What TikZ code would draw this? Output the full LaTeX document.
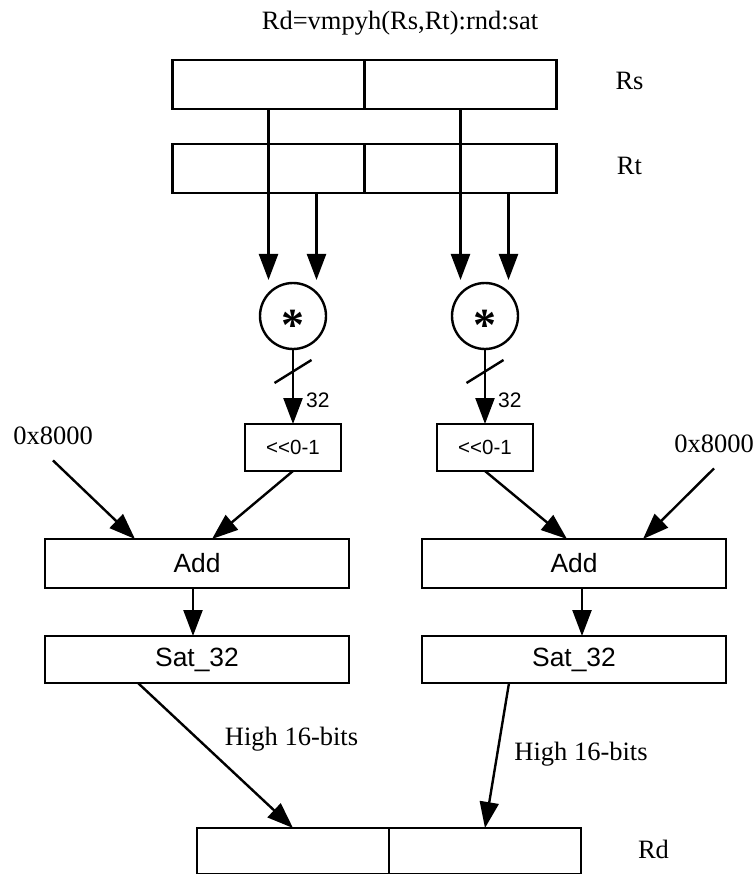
\documentclass[tikz,border=0pt]{standalone}
\usepackage{fontspec}
\setmainfont{Liberation Serif}
\setsansfont{Liberation Sans}
\usetikzlibrary{arrows.meta, positioning, calc}

\begin{document}
\begin{tikzpicture}[x=1pt, y=-1pt,
  %% Node styles
  reg/.style   ={draw, line width=2.8pt, minimum width=192pt, minimum height=49pt,
                 inner sep=0pt, outer sep=0pt},
  opbox/.style ={draw, line width=2.8pt, minimum width=304pt, minimum height=49pt,
                 inner sep=0pt, outer sep=0pt, font=\sffamily\fontsize{26.4}{30}\selectfont},
  shbox/.style ={draw, line width=2.8pt, minimum width=96pt, minimum height=47pt,
                 inner sep=0pt, outer sep=0pt, font=\sffamily\fontsize{20.5}{24}\selectfont},
  mult/.style  ={circle, draw, line width=2.4pt, minimum size=66pt, inner sep=0pt, outer sep=0pt,
                 font=\bfseries\fontsize{46}{46}\selectfont, text height=49pt, text depth=0pt},
  lbl/.style   ={inner sep=0pt, anchor=base, font=\fontsize{26.5}{30}\selectfont},
  wlbl/.style  ={inner sep=0pt, anchor=west, xshift=12pt, font=\sffamily\fontsize{21}{24}\selectfont},
  %% Arrows
  arr/.style   ={-{Triangle[length=26pt,width=19pt]}, line width=2.4pt},
  wire/.style  ={line width=2.4pt}
]
\useasboundingbox (0,0) rectangle (753,874);

%% ── SOURCE REGISTERS ────────────────────────────────────────────
\node[lbl] (title) at (400, 29.5) {Rd=vmpyh(Rs,Rt):rnd:sat};

\node[reg] (rsL) at (268.5, 84.5) {};
\node[reg] (rsR) at (460.5, 84.5) {};
\node[reg] (rtL) at (268.5, 168.5) {};
\node[reg] (rtR) at (460.5, 168.5) {};

\node[lbl] (rsName) at (629.5, 89.5) {Rs};
\node[lbl] (rtName) at (629.5, 174.5) {Rt};

%% ── MULTIPLIERS ─────────────────────────────────────────────────
\node[mult] (mulL) at (293, 316) {*};
\node[mult] (mulR) at (485, 316) {*};

\coordinate (rtLo) at ($(rtL.south)+(48,0)$);
\coordinate (rtRo) at ($(rtR.south)+(48,0)$);

\draw[arr, shorten >=3pt] (rsL.south) -- (rsL.south |- mulL.north);
\draw[arr, shorten >=3pt] (rtLo)      -- (rtLo |- mulL.north);
\draw[arr, shorten >=3pt] (rsR.south) -- (rsR.south |- mulR.north);
\draw[arr, shorten >=3pt] (rtRo)      -- (rtRo |- mulR.north);

%% ── SHIFT ───────────────────────────────────────────────────────
\node[shbox] (shL) at (293, 447.5) {<{}<0-1};
\node[shbox] (shR) at (485, 447.5) {<{}<0-1};

\draw[arr] (mulL) -- (shL) coordinate[pos=0.3] (cutL) node[wlbl, pos=0.68] {32};
\draw[arr] (mulR) -- (shR) coordinate[pos=0.3] (cutR) node[wlbl, pos=0.68] {32};
%% bus width slashes
\draw[wire] ($(cutL)+(-18.5,11.5)$) -- ($(cutL)+(18.5,-11.5)$);
\draw[wire] ($(cutR)+(-18.5,11.5)$) -- ($(cutR)+(18.5,-11.5)$);

%% ── ROUNDING ADD ────────────────────────────────────────────────
\node[opbox] (addL) at (197, 563.5) {Add};
\node[opbox] (addR) at (574, 563.5) {Add};

\node[lbl] (kL) at (53, 444)  {0x8000};
\node[lbl] (kR) at (714, 452) {0x8000};

\draw[arr] (shL.south) -- ($(addL.north)+(15,0)$);
\draw[arr] (shR.south) -- ($(addR.north)+(-7,0)$);
\draw[arr] ([yshift=-16pt]kL.south) -- ($(addL.north)+(-62,0)$);
\draw[arr] ([yshift=-16pt]kR.south) -- ($(addR.north)+(69,0)$);

%% ── SATURATE ────────────────────────────────────────────────────
\node[opbox, minimum height=47pt] (satL) at (197, 659.5) {Sat\_32};
\node[opbox, minimum height=47pt] (satR) at (574, 659.5) {Sat\_32};

\draw[arr] ([xshift=-4pt]addL.south) -- ([xshift=-4pt]satL.north);
\draw[arr] ([xshift=8pt]addR.south)  -- ([xshift=8pt]satR.north);

%% ── DESTINATION ─────────────────────────────────────────────────
\node[reg, minimum height=46pt] (rdL) at (293, 851) {};
\node[reg, minimum height=46pt] (rdR) at (485, 851) {};
\node[lbl] (rdName) at (653.5, 858.5) {Rd};

\draw[arr] ([xshift=-59pt]satL.south) -- (rdL.north);
\draw[arr] ([xshift=-65pt]satR.south) -- (rdR.north);

\node[lbl] (hiL) at (291.5, 745.5) {High 16-bits};
\node[lbl] (hiR) at (581, 760.5)   {High 16-bits};

\end{tikzpicture}
\end{document}
